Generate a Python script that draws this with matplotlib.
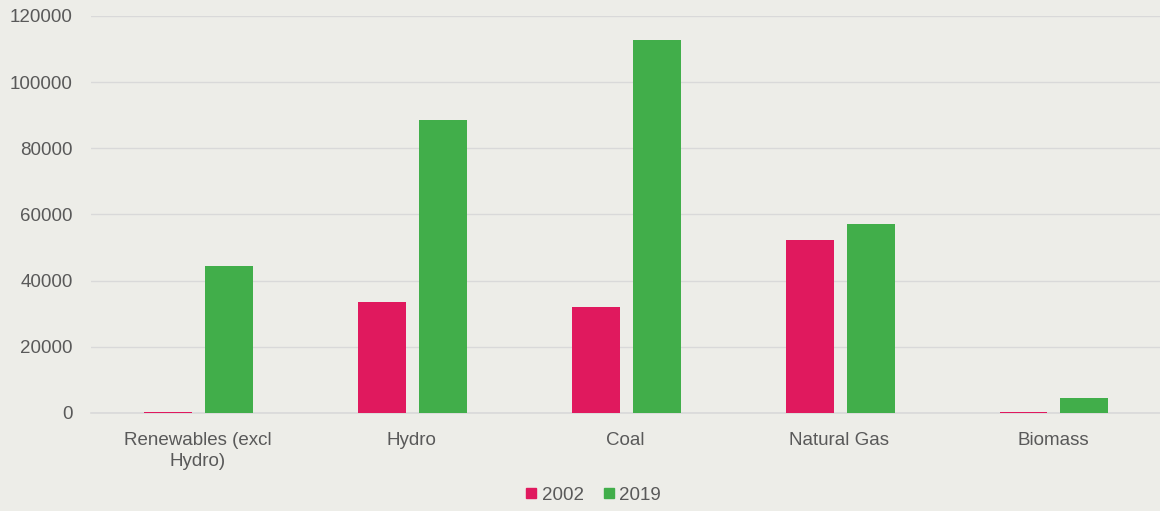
import matplotlib
matplotlib.use("Agg")
import matplotlib.pyplot as plt
from matplotlib.lines import Line2D
import numpy as np

categories = ["Renewables (excl\nHydro)", "Hydro", "Coal", "Natural Gas", "Biomass"]
values_2002 = [300, 33600, 32000, 52300, 200]
values_2019 = [44500, 88600, 112800, 57200, 4500]
series_labels = ["2002", "2019"]
yticks = [0, 20000, 40000, 60000, 80000, 100000, 120000]

plt.rcParams['font.family'] = ['Liberation Sans', 'DejaVu Sans']
bg = "#EDEDE8"
c2002 = "#E0195E"
c2019 = "#41AE4A"
txt = "#595959"

fig = plt.figure(figsize=(11.6, 5.11), dpi=100, facecolor=bg)
ax = fig.add_axes([0.0784, 0.1918, 0.9216, 0.7769], facecolor=bg)

x = np.arange(len(categories))
w = 0.224
off = 0.1425
ax.bar(x - off + 0.004, values_2002, w, color=c2002, label=series_labels[0], zorder=3)
ax.bar(x + off + 0.004, values_2019, w, color=c2019, label=series_labels[1], zorder=3)

ax.set_xlim(-0.5, len(categories) - 0.5)
ax.set_ylim(0, 120000)
ax.set_yticks(yticks)
ax.set_yticklabels([str(v) for v in yticks])
ax.yaxis.grid(True, color="#D9D9D9", linewidth=1, zorder=0)
ax.set_axisbelow(True)
for s in ["top", "right", "left"]:
    ax.spines[s].set_visible(False)
ax.spines["bottom"].set_color("#D9D9D9")
ax.spines["bottom"].set_linewidth(1.2)
ax.tick_params(axis="both", length=0, labelsize=13.5, colors=txt)
ax.tick_params(axis="y", pad=13)
ax.tick_params(axis="x", pad=14)
ax.set_xticks(x)
ax.set_xticklabels(categories, linespacing=1.3)

handles = [Line2D([], [], marker="s", linestyle="none", markersize=7.4,
                  markerfacecolor=c, markeredgecolor=c) for c in (c2002, c2019)]
leg = fig.legend(handles, series_labels, loc="center", bbox_to_anchor=(0.511, 0.031),
                 ncol=2, frameon=False, fontsize=13.5, handlelength=0.7,
                 handletextpad=0.2, columnspacing=1.0, labelcolor=txt)

fig.savefig("out.png", dpi=100, facecolor=bg)
